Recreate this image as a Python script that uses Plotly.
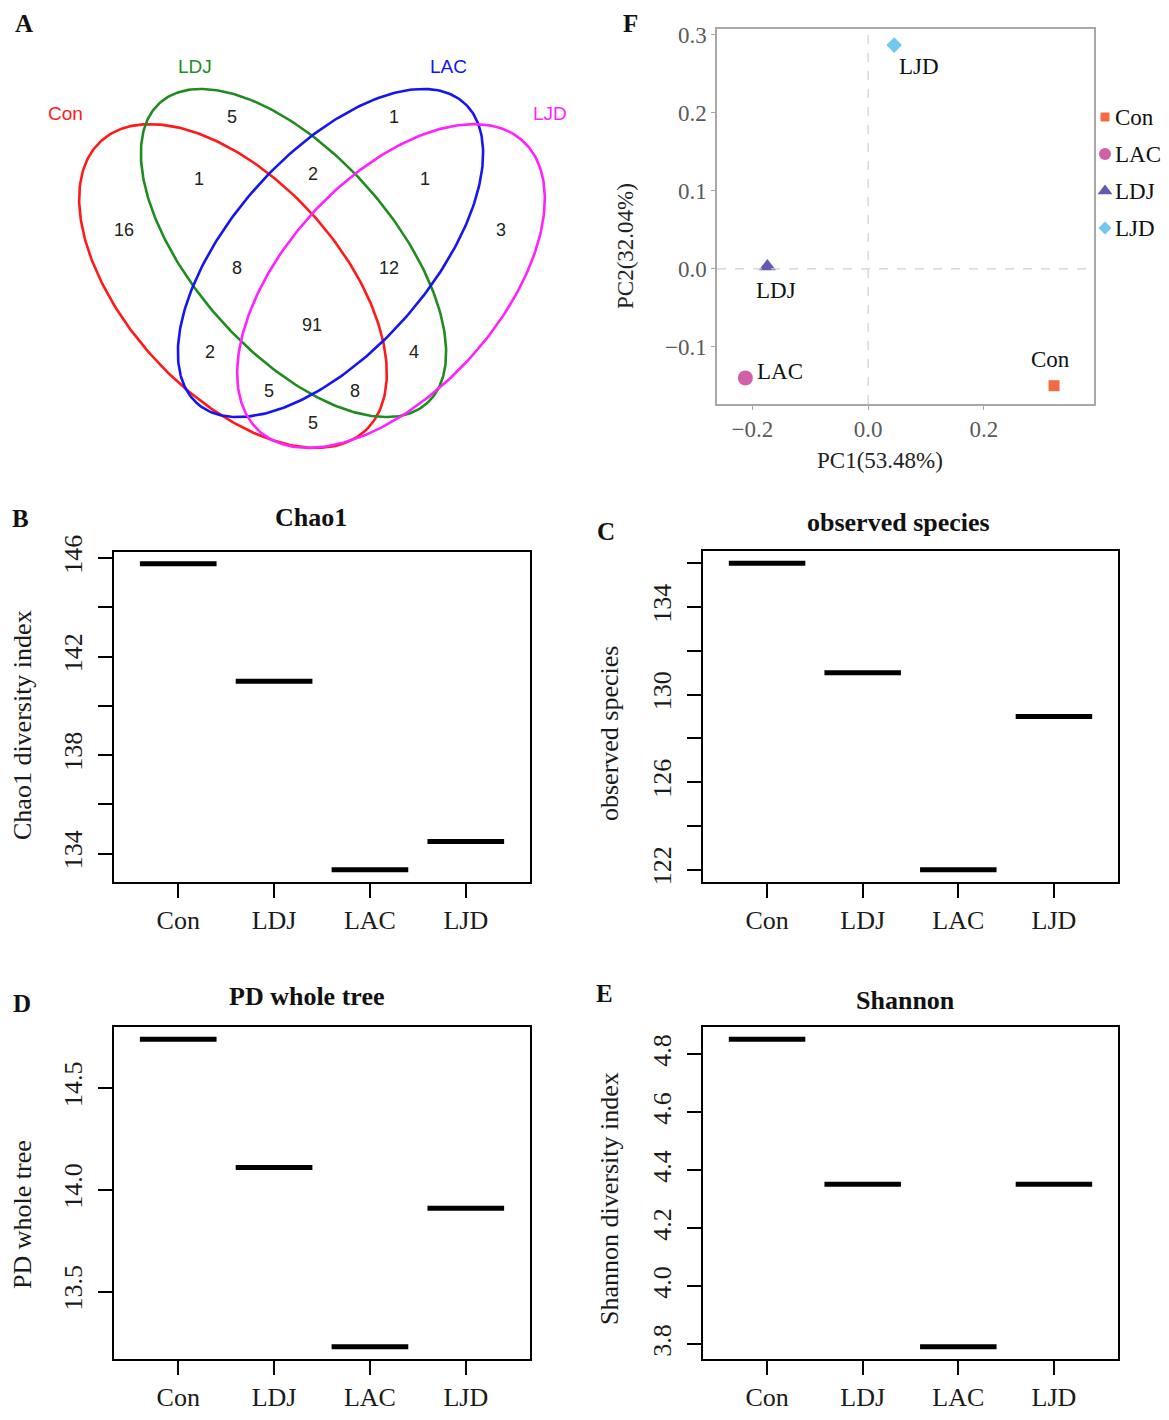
import numpy as np
import plotly.graph_objects as go

PAGE_W, PAGE_H = 1169, 1420
OFF = 8  # browser body margin
W, H = PAGE_W - OFF, PAGE_H - OFF
SERIF = "Liberation Serif, Times New Roman, serif"
SANS = "Liberation Sans, Arial, sans-serif"

# ---------------- data ----------------
groups = ["Con", "LDJ", "LAC", "LJD"]

chao1 = [145.77, 141.0, 133.35, 134.5]
observed_species = [136.0, 131.0, 122.0, 129.0]
pd_whole_tree = [14.74, 14.11, 13.23, 13.91]
shannon = [4.852, 4.352, 3.792, 4.352]

venn_sets = ["Con", "LDJ", "LAC", "LJD"]
venn_regions = ["Con", "LDJ", "LAC", "LJD", "Con&LDJ", "LDJ&LAC", "LAC&LJD",
                "Con&LDJ&LAC", "LDJ&LAC&LJD", "Con&LDJ&LAC&LJD", "Con&LAC",
                "LDJ&LJD", "Con&LAC&LJD", "Con&LDJ&LJD", "Con&LJD"]
venn_counts = [16, 5, 1, 3, 1, 2, 1, 8, 12, 91, 2, 4, 5, 8, 5]

pca_groups = ["Con", "LAC", "LDJ", "LJD"]
pc1 = [0.321, -0.212, -0.174, 0.045]
pc2 = [-0.150, -0.140, 0.003, 0.287]

# ---------------- styles / layout (page pixel coordinates) ----------------
venn_colors = {"Con": "#FF1A1A", "LDJ": "#1E8C1E", "LAC": "#1515F0", "LJD": "#FF22FF"}
venn_geom = {"Con": (233, 286, 196, 107, 47.7),
             "LDJ": (293.5, 253, 201, 99, 48.4),
             "LAC": (330.5, 253, 201, 99, 131.6),
             "LJD": (391, 286, 196, 107, 132.3)}
venn_label_pos = {"Con": (65, 113), "LDJ": (195, 66), "LAC": (448, 66), "LJD": (550, 113)}
region_pos = [(124, 231), (232, 118), (394, 118), (501, 231), (199, 180), (313, 175),
              (425, 180), (237, 269), (389, 269), (312, 326), (210, 353), (414, 353),
              (269, 392), (355, 392), (313, 424)]

pca_colors = {"Con": "#F26B43", "LAC": "#D160A8", "LDJ": "#5F5BAE", "LJD": "#72C8EE"}
pca_symbols = {"Con": "square", "LAC": "circle", "LDJ": "triangle-up", "LJD": "diamond"}
pca_sizes = {"Con": 11, "LAC": 15, "LDJ": 15, "LJD": 12}
legend_sizes = {"Con": 9, "LAC": 12, "LDJ": 13, "LJD": 10}
pca_label_off = {"Con": ("center", -4, 26), "LAC": ("left", 10, 6),
                 "LDJ": ("left", -13, -24), "LJD": ("left", 3, -21)}


def fx(x):  # page px -> figure px
    return x - OFF


def fy(y):
    return y - OFF


def px(x):  # page px -> paper fraction
    return (x - OFF) / W


def py(y):
    return 1 - (y - OFF) / H


fig = go.Figure()

# ---------------- full-page pixel axis (Venn + legend) ----------------
for s in venn_sets:
    cx, cy, a, b, ang = venn_geom[s]
    t = np.linspace(0, 2 * np.pi, 300)
    th = np.radians(ang)
    ex = cx + a * np.cos(t) * np.cos(th) - b * np.sin(t) * np.sin(th)
    ey = cy + a * np.cos(t) * np.sin(th) + b * np.sin(t) * np.cos(th)
    fig.add_trace(go.Scatter(x=fx(ex), y=fy(ey), mode="lines", line=dict(color=venn_colors[s], width=2.6),
                             xaxis="x", yaxis="y", showlegend=False, hoverinfo="skip"))

fig.add_trace(go.Scatter(x=[fx(p[0]) for p in region_pos], y=[fy(p[1]) for p in region_pos],
                         mode="text", text=[str(c) for c in venn_counts],
                         textfont=dict(family=SANS, size=18, color="#222"),
                         xaxis="x", yaxis="y", showlegend=False, hoverinfo="skip"))

annotations = []
for s in venn_sets:
    lx, ly = venn_label_pos[s]
    annotations.append(dict(x=fx(lx), y=fy(ly), xref="x", yref="y", text=s, showarrow=False,
                            xanchor="center", yanchor="middle",
                            font=dict(family=SANS, size=19, color=venn_colors[s])))

# manual legend for F
for i, g in enumerate(pca_groups):
    ly = 117 + i * 37
    fig.add_trace(go.Scatter(x=[fx(1105)], y=[fy(ly)], mode="markers",
                             marker=dict(symbol=pca_symbols[g], color=pca_colors[g], size=legend_sizes[g]),
                             xaxis="x", yaxis="y", showlegend=False, hoverinfo="skip"))
    annotations.append(dict(x=fx(1113), y=fy(ly), xref="x", yref="y", text=g, showarrow=False,
                            xanchor="left", yanchor="middle",
                            font=dict(family=SERIF, size=23, color="#111")))

layout = dict(
    width=W, height=H, margin=dict(l=0, r=0, t=0, b=0, pad=0, autoexpand=False),
    paper_bgcolor="white", plot_bgcolor="rgba(0,0,0,0)",
    showlegend=False,
    xaxis=dict(domain=[0, 1], range=[0, W], visible=False, fixedrange=True, automargin=False),
    yaxis=dict(domain=[0, 1], range=[H, 0], visible=False, fixedrange=True, automargin=False),
)

# ---------------- F: PCA ----------------
for g, x, y in zip(pca_groups, pc1, pc2):
    fig.add_trace(go.Scatter(x=[x], y=[y], mode="markers",
                             marker=dict(symbol=pca_symbols[g], color=pca_colors[g], size=pca_sizes[g]),
                             xaxis="x2", yaxis="y2", showlegend=False, hoverinfo="skip"))
    anc, xs, ys = pca_label_off[g]
    annotations.append(dict(x=x, y=y, xref="x2", yref="y2", text=g, showarrow=False,
                            xanchor=anc, yanchor="middle", xshift=xs, yshift=ys,
                            font=dict(family=SERIF, size=23, color="#111")))

gray_axis = dict(showline=True, linecolor="#A8A8A8", linewidth=1.5, mirror=True,
                 ticks="outside", ticklen=4, tickcolor="#A8A8A8", showgrid=False, zeroline=False,
                 tickfont=dict(family=SERIF, size=23, color="#5A5A5A"), fixedrange=True,
                 automargin=False)
layout["xaxis2"] = dict(domain=[px(717), px(1094)], range=[-0.261, 0.390], anchor="y2",
                        tick0=0, dtick=0.2, tickformat=".1f", **gray_axis)
layout["yaxis2"] = dict(domain=[py(404), py(29.3)], range=[-0.1735, 0.3073], anchor="x2",
                        tick0=0, dtick=0.1, tickformat=".1f", **gray_axis)

shapes = [
    dict(type="line", xref="x2", yref="y2 domain", x0=0, x1=0, y0=0, y1=1,
         line=dict(color="#CFCFCF", width=1.2, dash="dash")),
    dict(type="line", xref="x2 domain", yref="y2", x0=0, x1=1, y0=0, y1=0,
         line=dict(color="#CFCFCF", width=1.2, dash="dash")),
]


def paper_text(x, y, text, size, color="#111", angle=0, family=SERIF):
    return dict(x=px(x), y=py(y), xref="paper", yref="paper", text=text, showarrow=False,
                xanchor="center", yanchor="middle", textangle=angle,
                font=dict(family=family, size=size, color=color))


annotations.append(paper_text(880, 460, "PC1(53.48%)", 23, "#222"))
annotations.append(paper_text(625, 246, "PC2(32.04%)", 23, "#222", angle=-90))

# ---------------- B-E: alpha diversity panels ----------------
black_axis = dict(showline=True, linecolor="black", linewidth=2, mirror=True,
                  ticks="outside", ticklen=14, tickwidth=2, tickcolor="black",
                  showgrid=False, zeroline=False, fixedrange=True, automargin=False,
                  tickfont=dict(family=SERIF, size=26, color="#1a1a1a"))

panels = [
    (3, chao1, (114, 530), (551.5, 882), [134, 136, 138, 140, 142, 144, 146],
     ["134", "", "138", "", "142", "", "146"], "Chao1", (311, 517), "Chao1 diversity index", (22, 725)),
    (4, observed_species, (703, 1118), (551, 882), [122, 124, 126, 128, 130, 132, 134, 136],
     ["122", "", "126", "", "130", "", "134", ""], "observed species", (898, 522), "observed species", (609, 734)),
    (5, pd_whole_tree, (114, 530), (1027, 1359), [13.5, 14.0, 14.5],
     ["13.5", "14.0", "14.5"], "PD whole tree", (306, 997), "PD whole tree", (22, 1215)),
    (6, shannon, (703, 1118), (1027, 1359), [3.8, 4.0, 4.2, 4.4, 4.6, 4.8],
     ["3.8", "4.0", "4.2", "4.4", "4.6", "4.8"], "Shannon", (905, 1000), "Shannon diversity index", (609, 1199)),
]

for idx, vals, xd, yd, tv, tt, title, tpos, ytitle, ypos in panels:
    xs, ys = [], []
    for i, v in enumerate(vals):
        xs += [i + 1 - 0.4, i + 1 + 0.4, None]
        ys += [v, v, None]
    fig.add_trace(go.Scatter(x=xs, y=ys, mode="lines", line=dict(color="black", width=5),
                             xaxis=f"x{idx}", yaxis=f"y{idx}", showlegend=False, hoverinfo="skip"))
    lo, hi = min(vals), max(vals)
    pad = 0.04 * (hi - lo)
    layout[f"xaxis{idx}"] = dict(domain=[px(xd[0]), px(xd[1])], range=[0.33, 4.67], anchor=f"y{idx}",
                                 tickvals=[1, 2, 3, 4], ticktext=groups, **black_axis)
    layout[f"yaxis{idx}"] = dict(domain=[py(yd[1]), py(yd[0])], range=[lo - pad, hi + pad], anchor=f"x{idx}",
                                 tickvals=tv, ticktext=tt, tickangle=-90, ticklabelstandoff=6, **black_axis)
    annotations.append(paper_text(tpos[0], tpos[1], f"<b>{title}</b>", 26))
    annotations.append(paper_text(ypos[0], ypos[1], ytitle, 26, "#1a1a1a", angle=-90))

# panel letters
for letter, (lx, ly) in {"A": (24, 24), "F": (630, 23), "B": (20, 519), "C": (606, 531),
                         "D": (22, 1003), "E": (604, 993)}.items():
    annotations.append(paper_text(lx, ly, f"<b>{letter}</b>", 25))

layout["annotations"] = annotations
layout["shapes"] = shapes
fig.update_layout(**layout)
fig.write_html("out.html")
